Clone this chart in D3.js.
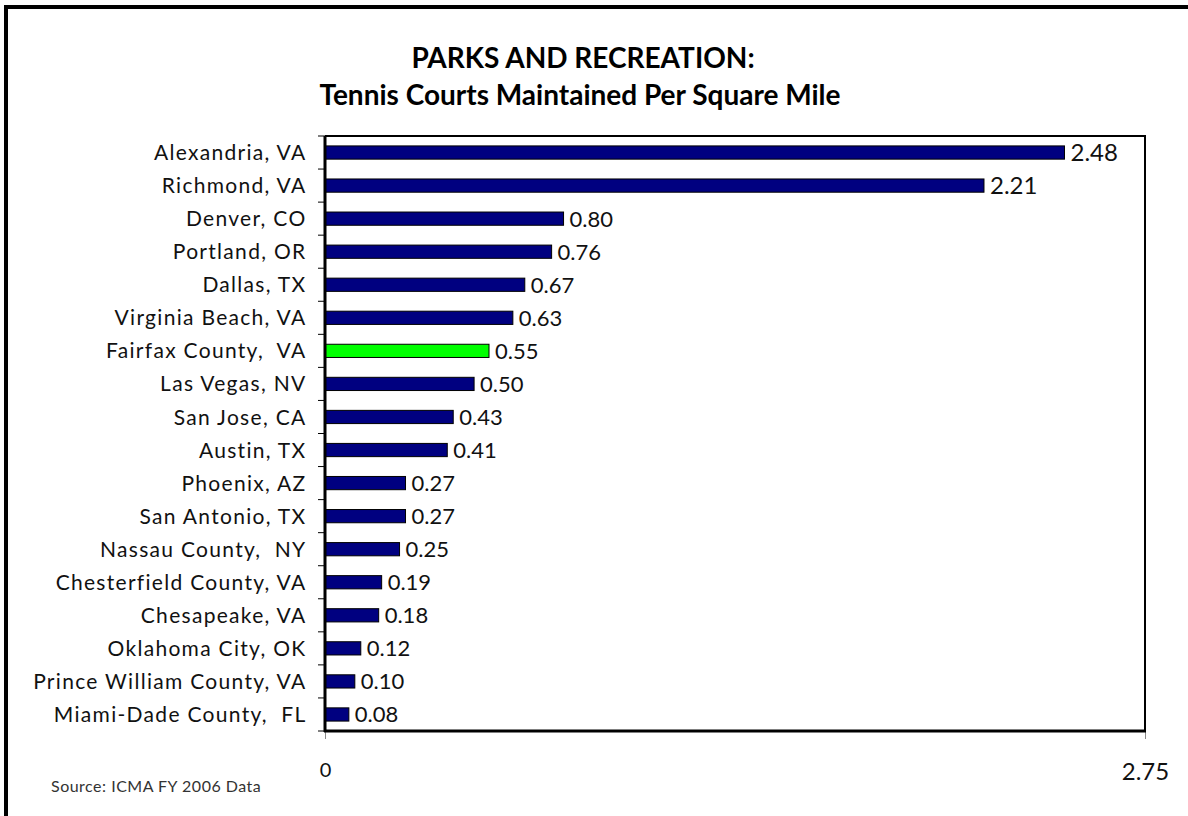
<!DOCTYPE html>
<html><head><meta charset="utf-8">
<script src="https://cdn.jsdelivr.net/npm/d3@7"></script>
<style>
html,body{margin:0;padding:0;background:#fff;}
svg{display:block;}
text{font-family:Lato,"Open Sans",sans-serif;white-space:pre;}
</style></head>
<body><svg id="c" width="1188" height="816"></svg>
<script>
const categories = ["Alexandria, VA","Richmond, VA","Denver, CO","Portland, OR","Dallas, TX","Virginia Beach, VA","Fairfax County,  VA","Las Vegas, NV","San Jose, CA","Austin, TX","Phoenix, AZ","San Antonio, TX","Nassau County,  NY","Chesterfield County, VA","Chesapeake, VA","Oklahoma City, OK","Prince William County, VA","Miami-Dade County,  FL"];
const values = [2.48,2.21,0.80,0.76,0.67,0.63,0.55,0.50,0.43,0.41,0.27,0.27,0.25,0.19,0.18,0.12,0.10,0.08];
const highlight = ["Fairfax County,  VA"];
const xTicks = [0, 2.75];
const xTickLabels = ["0", "2.75"];
const titleLines = ["PARKS AND RECREATION:", "Tennis Courts Maintained Per Square Mile"];
const sourceText = "Source: ICMA FY 2006 Data";

const svg = d3.select("#c");
const L = 325, R = 1145, T = 136, B = 731;
const x = d3.scaleLinear().domain([0, 2.75]).range([L, R]);
const y = d3.scaleBand().domain(categories).range([T, B]).paddingInner(0.6).paddingOuter(0.3);
const yb = d3.scaleBand().domain(categories).range([T, B]);
const serifFor = s => s.startsWith("2") ? "'Liberation Serif', serif" : "Lato, sans-serif";

// outer frame
svg.append("line").attr("x1",6).attr("x2",6).attr("y1",5).attr("y2",816).attr("stroke","#000").attr("stroke-width",4);
svg.append("line").attr("x1",4).attr("x2",1188).attr("y1",7).attr("y2",7).attr("stroke","#000").attr("stroke-width",4);

// title
svg.append("text").attr("x",583).attr("y",68).attr("text-anchor","middle")
  .attr("font-weight","bold").attr("font-size",28).text(titleLines[0]);
svg.append("text").attr("x",580).attr("y",105).attr("text-anchor","middle")
  .attr("font-weight","bold").attr("font-size",28).text(titleLines[1]);

// plot frame (top & right)
svg.append("line").attr("x1",L).attr("x2",R+1).attr("y1",T).attr("y2",T).attr("stroke","#000").attr("stroke-width",2);
svg.append("line").attr("x1",R).attr("x2",R).attr("y1",T).attr("y2",B).attr("stroke","#000").attr("stroke-width",2);

// bars
svg.append("g").selectAll("rect").data(categories).join("rect")
  .attr("x", x(0))
  .attr("y", d => y(d))
  .attr("width", (d,i) => x(values[i]) - x(0))
  .attr("height", y.bandwidth())
  .attr("fill", d => highlight.includes(d) ? "#00ff00" : "#000080")
  .attr("stroke", "#000").attr("stroke-width", 1);

// value labels
svg.append("g").selectAll("text").data(categories).join("text")
  .attr("x", (d,i) => x(values[i]) + 6)
  .attr("y", d => y(d) + y.bandwidth()/2)
  .attr("dy", "0.36em")
  .attr("font-size", (d,i) => values[i] >= 2 ? 24 : 22)
  .attr("font-family", (d,i) => serifFor(values[i].toFixed(2)))
  .attr("fill","#111")
  .text((d,i) => values[i].toFixed(2));

// y axis
const yAxis = d3.axisLeft(yb).tickSize(0).tickPadding(18.5);
const gy = svg.append("g").attr("transform",`translate(${L},0)`).call(yAxis);
gy.select(".domain").remove();
gy.selectAll("text").attr("font-size",21).attr("letter-spacing","1.3px").attr("fill","#111")
  .attr("font-family","Lato, sans-serif").attr("dy","0.36em");
// category boundary ticks
svg.append("g").selectAll("line").data(categories.concat(["__end"])).join("line")
  .attr("x1", L-7).attr("x2", L)
  .attr("y1", (d,i) => i < categories.length ? yb(d) : B)
  .attr("y2", (d,i) => i < categories.length ? yb(d) : B)
  .attr("stroke","#000").attr("stroke-width",1);
svg.append("line").attr("x1",L).attr("x2",L).attr("y1",T).attr("y2",B+1).attr("stroke","#000").attr("stroke-width",3);

// x axis
const xAxis = d3.axisBottom(x).tickValues(xTicks).tickSize(8).tickPadding(24).tickFormat((d,i) => xTickLabels[i]);
const gx = svg.append("g").attr("transform",`translate(0,${B})`).call(xAxis);
gx.select(".domain").remove();
gx.selectAll(".tick line").attr("stroke","#888");
gx.selectAll("text").attr("font-size",(d,i) => i ? 24 : 20).attr("fill","#111")
  .attr("font-family",(d,i) => serifFor(xTickLabels[i]));
svg.append("line").attr("x1",L-1).attr("x2",R+1).attr("y1",B).attr("y2",B).attr("stroke","#000").attr("stroke-width",3);

// source
svg.append("text").attr("x",51).attr("y",792).attr("font-size",16).attr("letter-spacing","0.5px").attr("fill","#333").text(sourceText);
</script></body></html>
